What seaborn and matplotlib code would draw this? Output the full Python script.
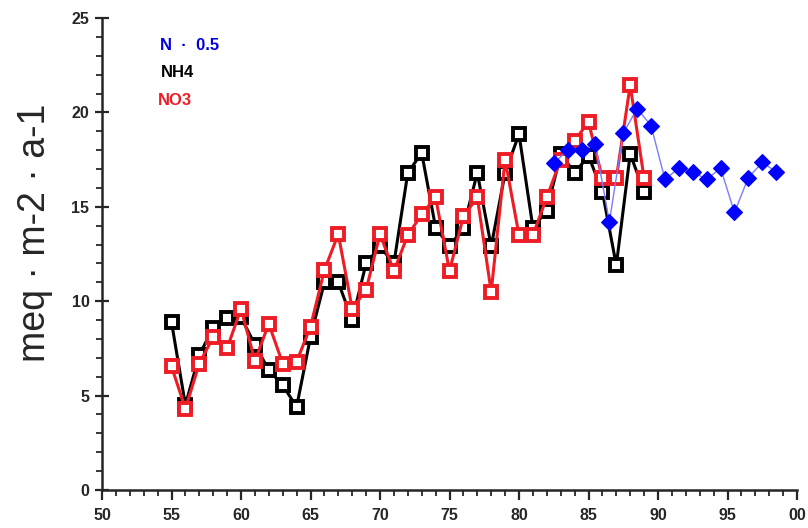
import numpy as np
import pandas as pd
import matplotlib
matplotlib.use("Agg")
import matplotlib.pyplot as plt
import seaborn as sns
from matplotlib.ticker import MultipleLocator, FixedLocator

# ---- data ----
years = list(range(55, 90))
nh4 = [8.9, 4.5, 7.15, 8.6, 9.1, 9.15, 7.7, 6.35, 5.55, 4.4,
       8.1, 11.0, 11.0, 9.0, 12.0, 12.9, 12.0, 16.8, 17.85, 13.9,
       12.9, 13.9, 16.8, 12.9, 16.8, 18.85, 13.9, 14.8, 17.8, 16.8,
       17.7, 15.8, 11.9, 17.8, 15.8]
no3 = [6.55, 4.3, 6.7, 8.1, 7.5, 9.6, 6.85, 8.8, 6.7, 6.8,
       8.65, 11.65, 13.55, 9.6, 10.6, 13.55, 11.6, 13.5, 14.6, 15.5,
       11.6, 14.5, 15.5, 10.5, 17.5, 13.5, 13.5, 15.5, 17.5, 18.5,
       19.5, 16.5, 16.5, 21.45, 16.5]
n_years = [82.5, 83.5, 84.5, 85.5, 86.5, 87.5, 88.5, 89.5, 90.5,
           91.5, 92.5, 93.5, 94.5, 95.5, 96.5, 97.5, 98.5]
n_half = [17.3, 18.0, 18.0, 18.3, 14.2, 18.9, 20.2, 19.3, 16.45,
          17.05, 16.85, 16.45, 17.05, 14.7, 16.55, 17.35, 16.85]
xtick_vals = [50, 55, 60, 65, 70, 75, 80, 85, 90, 95, 100]
xtick_labels = ["50", "55", "60", "65", "70", "75", "80", "85", "90", "95", "00"]
ytick_vals = [0, 5, 10, 15, 20, 25]

sns.set_style("ticks")
plt.rcParams["font.family"] = ["Liberation Sans", "DejaVu Sans"]

fig = plt.figure(figsize=(8.08, 5.28), dpi=100)
ax = fig.add_axes([102 / 808, 1 - 490 / 528, (797 - 102) / 808, (490 - 18) / 528])

df_nh4 = pd.DataFrame({"year": years, "val": nh4})
df_no3 = pd.DataFrame({"year": years, "val": no3})
df_n = pd.DataFrame({"year": n_years, "val": n_half})

sns.lineplot(data=df_nh4, x="year", y="val", ax=ax, color="black", lw=2.2,
             marker="s", markersize=8, markerfacecolor="white",
             markeredgecolor="black", markeredgewidth=2.8, zorder=3)
sns.lineplot(data=df_no3, x="year", y="val", ax=ax, color="#ee1c25", lw=2.2,
             marker="s", markersize=8, markerfacecolor="white",
             markeredgecolor="#ee1c25", markeredgewidth=2.8, zorder=4)
sns.lineplot(data=df_n, x="year", y="val", ax=ax, color="#7b7bff", lw=1.0,
             marker="D", markersize=8.5, markerfacecolor="#0000ff",
             markeredgecolor="#0000ff", markeredgewidth=0.8, zorder=5)

ax.set_xlim(50, 100)
ax.set_ylim(0, 25)
ax.xaxis.set_major_locator(FixedLocator(xtick_vals))
ax.set_xticklabels(xtick_labels)
ax.xaxis.set_minor_locator(MultipleLocator(1))
ax.yaxis.set_major_locator(FixedLocator(ytick_vals))
ax.yaxis.set_minor_locator(MultipleLocator(1))

for lab in ax.get_xticklabels() + ax.get_yticklabels():
    lab.set_fontweight("bold")
    lab.set_fontsize(11.5)

ax.tick_params(axis="x", which="major", direction="out", length=7, width=1.6, pad=6)
ax.tick_params(axis="x", which="minor", direction="out", length=4, width=1.3)
ax.tick_params(axis="y", which="major", direction="inout", length=10, width=1.6, pad=4)
ax.tick_params(axis="y", which="minor", direction="out", length=4, width=1.3)

for side in ["top", "right"]:
    ax.spines[side].set_visible(False)
for side in ["left", "bottom"]:
    ax.spines[side].set_linewidth(1.8)

ax.set_xlabel("")
ax.set_ylabel("meq · m-2 · a-1", fontsize=27)
ax.yaxis.set_label_coords(-0.07, 0.545)

ax.text(0.084, 0.942, "N  ·  0.5", transform=ax.transAxes, color="#0000dd",
        fontsize=12, fontweight="bold", va="center", ha="left")
ax.text(0.084, 0.884, "NH4", transform=ax.transAxes, color="black",
        fontsize=12, fontweight="bold", va="center", ha="left")
ax.text(0.081, 0.826, "NO3", transform=ax.transAxes, color="#ee1c25",
        fontsize=12, fontweight="bold", va="center", ha="left")

fig.savefig("out.png", dpi=100)
